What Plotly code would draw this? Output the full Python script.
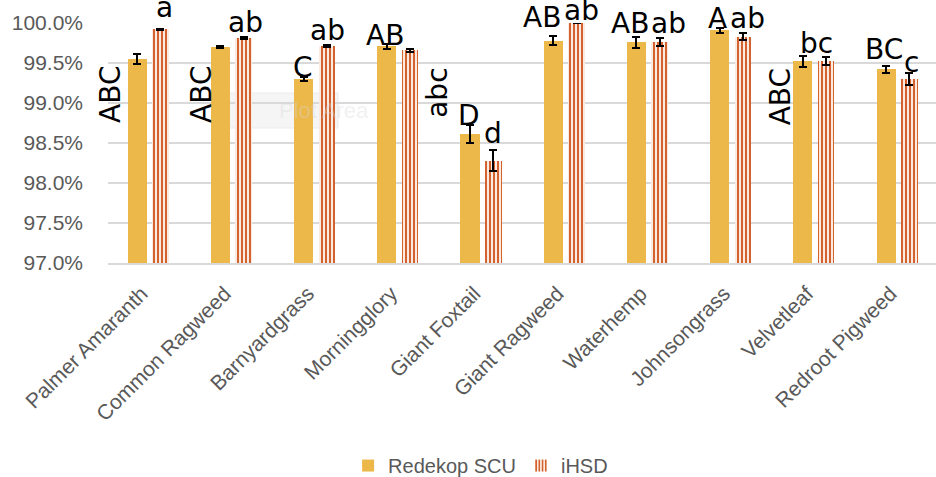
import plotly.graph_objects as go

categories = ["Palmer Amaranth", "Common Ragweed", "Barnyardgrass", "Morningglory",
              "Giant Foxtail", "Giant Ragweed", "Waterhemp", "Johnsongrass",
              "Velvetleaf", "Redroot Pigweed"]
scu_values = [99.55, 99.70, 99.30, 99.71, 98.61, 99.78, 99.76, 99.91, 99.52, 99.42]
scu_errors = [0.06, 0.01, 0.03, 0.03, 0.11, 0.06, 0.07, 0.03, 0.07, 0.04]
ihsd_values = [99.92, 99.81, 99.71, 99.66, 98.28, 100.00, 99.76, 99.83, 99.52, 99.30]
ihsd_errors = [0.01, 0.01, 0.01, 0.02, 0.13, 0.0, 0.05, 0.04, 0.05, 0.07]
scu_letters = ["ABC", "ABC", "C", "AB", "D", "AB", "AB", "A", "ABC", "BC"]
ihsd_letters = ["a", "ab", "ab", "abc", "d", "ab", "ab", "ab", "bc", "c"]
y_ticks = [97.0, 97.5, 98.0, 98.5, 99.0, 99.5, 100.0]

idx = list(range(len(categories)))

GRAY = "#595959"
ORANGE = "#ECB84A"
STRIPE = "#D4622E"
Y_MIN, Y_MAX = 97.0, 100.0
X_MIN, X_MAX = -0.5, 9.45

fig = go.Figure()
fig.add_trace(go.Bar(
    name="Redekop SCU", x=idx, y=scu_values,
    offset=-0.265, width=0.23,
    marker=dict(color=ORANGE, line=dict(width=0)),
    error_y=dict(type="data", array=scu_errors, color="black", thickness=2, width=4),
))
fig.add_trace(go.Bar(
    name="iHSD", x=idx, y=ihsd_values,
    offset=0.03, width=0.2,
    marker=dict(color="#FBEAE0", line=dict(width=0),
                pattern=dict(shape="|", fgcolor=STRIPE, bgcolor="#FBEAE0",
                             size=4, solidity=0.5, fillmode="replace")),
    error_y=dict(type="data", array=ihsd_errors, color="black", thickness=2, width=4),
))

# letter label placement (layout): (dx from category index, y in axis units, rotated)
scu_pos = [(-0.479, 99.11, True), (-0.386, 99.11, True), (-0.160, 99.441, False),
           (-0.174, 99.841, False), (-0.159, 98.841, False), (-0.287, 100.066, False),
           (-0.230, 99.991, False), (-0.178, 100.054, False), (-0.409, 99.075, True),
           (-0.177, 99.666, False)]
ihsd_pos = [(0.181, 100.19, False), (0.155, 100.004, False), (0.141, 99.904, False),
            (0.457, 99.131, True), (0.124, 98.616, False), (0.194, 100.155, False),
            (0.239, 99.991, False), (0.189, 100.054, False), (0.016, 99.741, False),
            (0.154, 99.504, False)]

annotations = []
for letters, pos in ((scu_letters, scu_pos), (ihsd_letters, ihsd_pos)):
    for i, (txt, (dx, yy, rot)) in enumerate(zip(letters, pos)):
        annotations.append(dict(
            x=(i + dx - X_MIN) / (X_MAX - X_MIN), y=(yy - Y_MIN) / (Y_MAX - Y_MIN),
            xref="paper", yref="paper", text=txt, showarrow=False,
            textangle=-90 if rot else 0, xanchor="center", yanchor="middle",
            font=dict(family="DejaVu Sans", size=28, color="black"),
        ))

fig.update_layout(
    width=936, height=477,
    margin=dict(l=108, r=0, t=23, b=214, autoexpand=False),
    paper_bgcolor="white", plot_bgcolor="white",
    bargap=0, showlegend=True,
    font=dict(family="Liberation Sans", color=GRAY),
    xaxis=dict(
        range=[X_MIN, X_MAX], tickmode="array", tickvals=idx, ticktext=categories,
        tickangle=-45, tickfont=dict(size=21, color=GRAY), showgrid=False,
        showline=True, linecolor="#D9D9D9", linewidth=2, ticks="", zeroline=False,
        ticklabelshift=-8, ticklabelstandoff=8, automargin=False,
    ),
    yaxis=dict(
        range=[Y_MIN, Y_MAX], tickmode="array", tickvals=y_ticks,
        ticktext=[f"{v:.1f}%" for v in y_ticks],
        tickfont=dict(size=21, color=GRAY), showgrid=True, gridcolor="#D9D9D9",
        gridwidth=2, zeroline=False, ticks="", ticklabelstandoff=24, automargin=False,
    ),
    legend=dict(orientation="h", x=0.45, xanchor="center",
                yref="container", y=0.024, yanchor="middle",
                font=dict(size=20, color=GRAY), bgcolor="rgba(0,0,0,0)"),
    annotations=annotations,
    shapes=[dict(type="rect", xref="paper", yref="paper",
                 x0=(217 - 108) / 828, x1=(338 - 108) / 828,
                 y0=(263 - 128) / 240, y1=(263 - 93) / 240,
                 fillcolor="rgba(244,244,244,0.9)", line=dict(color="#EBEBEB", width=1),
                 layer="between")],
)
fig.add_annotation(x=(277 - 108) / 828, y=(263 - 110) / 240, xref="paper", yref="paper",
                   text="Plot Area", showarrow=False,
                   font=dict(family="Liberation Sans", size=22, color="rgba(215,215,215,0.35)"))

fig.write_html("out.html", config={"displayModeBar": False},
               post_script="document.body.style.margin='0';document.body.style.overflow='hidden';")
